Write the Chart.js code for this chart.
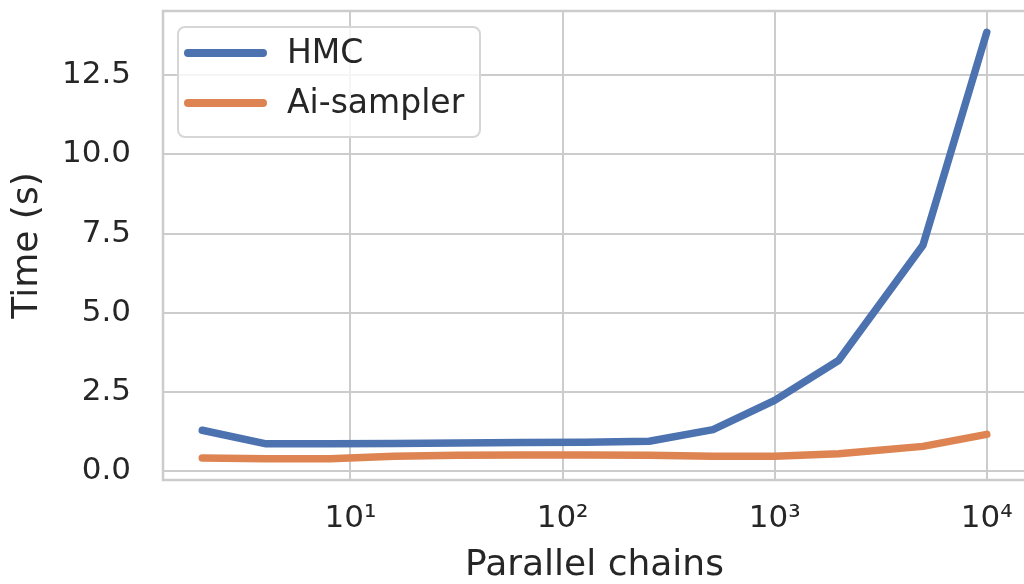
<!DOCTYPE html>
<html lang="en">
<head>
    <meta charset="UTF-8">
    <title>Parallel chains timing</title>
    <script src="https://cdn.jsdelivr.net/npm/chart.js"></script>
    <style>
        body { margin: 0; overflow: hidden; background: #fff; }
        #wrap { width: 1024px; height: 584px; overflow: hidden; }
    </style>
</head>
<body>
    <div id="wrap"><canvas id="timeChart" width="1036" height="584"></canvas></div>
    <script>
        // number of parallel chains (x) and run time in seconds (y)
        const chains = [2, 4, 8, 16, 32, 64, 128, 256, 512, 1000, 2000, 5000, 10000];
        const hmcTime = [1.30, 0.87, 0.87, 0.88, 0.90, 0.91, 0.92, 0.95, 1.32, 2.24, 3.50, 7.13, 13.85];
        const aiTime = [0.42, 0.40, 0.40, 0.48, 0.51, 0.52, 0.52, 0.51, 0.48, 0.48, 0.56, 0.79, 1.17];
        const xTicks = [10, 100, 1000, 10000];
        const yTicks = [0, 2.5, 5, 7.5, 10, 12.5];

        const sup = { '0': '⁰', '1': '¹', '2': '²', '3': '³', '4': '⁴', '5': '⁵' };
        const gridColor = '#cccccc';
        const textColor = '#262626';
        Chart.defaults.font.family = '"DejaVu Sans", sans-serif';
        Chart.defaults.color = textColor;

        // frame around the plot area
        const framePlugin = {
            id: 'framePlugin',
            beforeDatasetsDraw: (chart) => {
                const ctx = chart.ctx;
                const a = chart.chartArea;
                ctx.save();
                ctx.strokeStyle = gridColor;
                ctx.lineWidth = 2.5;
                ctx.strokeRect(a.left, a.top, a.right - a.left, a.bottom - a.top);
                ctx.restore();
            }
        };

        // legend drawn inside the plot, upper left
        const innerLegend = {
            id: 'innerLegend',
            afterDraw: (chart) => {
                const ctx = chart.ctx;
                const a = chart.chartArea;
                const x = a.left + 15, y = a.top + 16, w = 302, h = 110, r = 7;
                ctx.save();
                ctx.beginPath();
                ctx.roundRect(x, y, w, h, r);
                ctx.fillStyle = 'rgba(255,255,255,0.8)';
                ctx.fill();
                ctx.strokeStyle = '#d6d6d6';
                ctx.lineWidth = 2;
                ctx.stroke();
                ctx.font = '33px "DejaVu Sans"';
                ctx.textBaseline = 'middle';
                chart.data.datasets.forEach((ds, i) => {
                    const ly = y + 26 + i * 50;
                    ctx.strokeStyle = ds.borderColor;
                    ctx.lineWidth = 8;
                    ctx.lineCap = 'round';
                    ctx.beginPath();
                    ctx.moveTo(x + 10, ly);
                    ctx.lineTo(x + 85, ly);
                    ctx.stroke();
                    ctx.fillStyle = textColor;
                    ctx.fillText(ds.label, x + 109, ly + 1);
                });
                ctx.restore();
            }
        };

        const toPoints = (ys) => chains.map((c, i) => ({ x: c, y: ys[i] }));

        new Chart(document.getElementById('timeChart'), {
            type: 'line',
            data: {
                datasets: [
                    {
                        label: 'HMC',
                        data: toPoints(hmcTime),
                        borderColor: '#4c72b0',
                        borderWidth: 7.5,
                        borderCapStyle: 'round',
                        borderJoinStyle: 'round',
                        pointRadius: 0,
                        fill: false,
                        tension: 0
                    },
                    {
                        label: 'Ai-sampler',
                        data: toPoints(aiTime),
                        borderColor: '#dd8452',
                        borderWidth: 7.5,
                        borderCapStyle: 'round',
                        borderJoinStyle: 'round',
                        pointRadius: 0,
                        fill: false,
                        tension: 0
                    }
                ]
            },
            options: {
                responsive: false,
                animation: false,
                layout: { padding: { top: 11, right: 10, left: 0, bottom: 0 } },
                scales: {
                    x: {
                        type: 'logarithmic',
                        min: 1.306,
                        max: 15310,
                        afterBuildTicks: (scale) => { scale.ticks = xTicks.map(v => ({ value: v })); },
                        afterFit: (scale) => {
                            scale.height = 104;
                            scale.paddingLeft = 0;
                            scale.paddingRight = 0;
                        },
                        grid: { color: gridColor, lineWidth: 2, drawTicks: false },
                        border: { display: false },
                        ticks: {
                            padding: 20,
                            font: { size: 31 },
                            color: textColor,
                            autoSkip: false,
                            maxRotation: 0,
                            callback: (v) => '10' + String(Math.round(Math.log10(v))).split('').map(d => sup[d]).join('')
                        },
                        title: {
                            display: true,
                            text: 'Parallel chains',
                            font: { size: 36, lineHeight: 1 },
                            color: textColor,
                            padding: 0
                        }
                    },
                    y: {
                        min: -0.27,
                        max: 14.52,
                        afterBuildTicks: (scale) => { scale.ticks = yTicks.map(v => ({ value: v })); },
                        afterFit: (scale) => {
                            scale.width = 163;
                            scale.paddingTop = 0;
                            scale.paddingBottom = 0;
                        },
                        grid: { color: gridColor, lineWidth: 2, drawTicks: false },
                        border: { display: false },
                        ticks: {
                            padding: 32,
                            font: { size: 31 },
                            color: textColor,
                            callback: (v) => v.toFixed(1)
                        },
                        title: {
                            display: true,
                            text: 'Time (s)',
                            font: { size: 36, lineHeight: 1.2 },
                            color: textColor,
                            padding: { top: 6, bottom: 0 }
                        }
                    }
                },
                plugins: {
                    legend: { display: false },
                    tooltip: { enabled: false }
                }
            },
            plugins: [framePlugin, innerLegend]
        });
    </script>
</body>
</html>
